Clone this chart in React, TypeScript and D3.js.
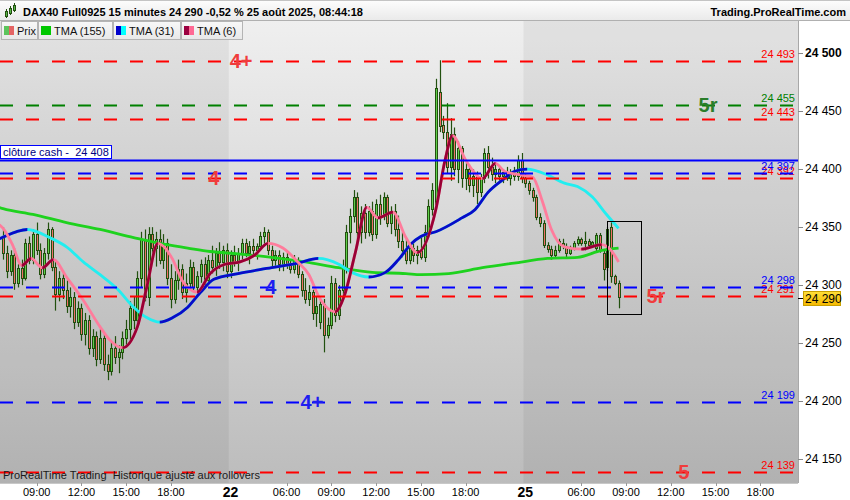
import React from 'react';
import * as d3 from 'd3';

// ---------- DATA ----------
// 15-minute candles: [open, high, low, close]; index 0 = 21 Aug 06:45
const candles: [number, number, number, number][] = [
  [24342,24350,24322,24328],[24328,24334,24306,24312],[24312,24330,24308,24326],[24326,24332,24296,24302],
  [24302,24318,24298,24315],[24315,24322,24300,24306],[24306,24340,24304,24336],[24336,24342,24318,24322],
  [24322,24348,24318,24344],[24344,24354,24326,24330],[24330,24336,24305,24310],[24310,24332,24306,24328],
  [24328,24354,24322,24348],[24348,24350,24312,24316],[24316,24322,24278,24292],[24292,24312,24286,24306],
  [24306,24310,24288,24296],[24296,24304,24276,24282],[24282,24298,24272,24290],[24290,24294,24262,24268],
  [24268,24286,24264,24280],[24280,24284,24252,24258],[24258,24276,24248,24270],[24270,24274,24240,24246],
  [24246,24262,24238,24256],[24256,24260,24230,24236],[24236,24262,24232,24254],[24254,24258,24226,24232],
  [24232,24240,24218,24226],[24226,24252,24222,24246],[24246,24256,24232,24238],[24238,24248,24224,24242],
  [24242,24260,24236,24254],[24254,24270,24246,24262],[24262,24286,24250,24280],[24280,24290,24262,24270],
  [24270,24312,24266,24306],[24306,24346,24298,24340],[24340,24348,24286,24290],[24290,24350,24282,24344],
  [24344,24350,24326,24332],[24332,24346,24316,24340],[24340,24348,24318,24322],[24322,24344,24314,24336],
  [24336,24340,24300,24306],[24306,24318,24280,24288],[24288,24312,24284,24304],[24304,24322,24296,24314],
  [24314,24318,24288,24294],[24294,24310,24285,24302],[24302,24322,24296,24316],[24316,24320,24294,24298],
  [24298,24312,24293,24308],[24308,24322,24302,24318],[24318,24324,24300,24304],[24304,24326,24302,24322],
  [24322,24334,24310,24316],[24316,24332,24308,24328],[24328,24337,24314,24320],[24320,24334,24312,24330],
  [24330,24336,24306,24312],
  // 22 Aug
  [24312,24330,24306,24326],[24326,24334,24316,24320],[24320,24332,24312,24328],[24328,24340,24322,24336],
  [24336,24340,24324,24328],[24328,24338,24318,24334],[24334,24340,24326,24330],[24330,24336,24322,24334],
  [24334,24346,24330,24342],[24342,24350,24334,24346],[24346,24348,24326,24330],[24330,24334,24316,24322],
  [24322,24330,24316,24326],[24326,24330,24312,24318],[24318,24328,24312,24324],[24324,24328,24314,24318],
  [24318,24322,24310,24314],[24314,24326,24310,24322],[24322,24324,24306,24310],[24310,24312,24290,24296],
  [24296,24306,24284,24288],[24288,24300,24282,24294],[24294,24296,24270,24276],[24276,24290,24264,24282],
  [24268,24288,24262,24284],[24284,24288,24242,24257],[24257,24272,24254,24266],[24266,24308,24262,24302],
  [24302,24306,24268,24274],[24274,24300,24270,24296],[24296,24322,24288,24316],[24316,24352,24310,24346],
  [24346,24366,24336,24360],[24360,24382,24354,24376],[24376,24380,24340,24346],[24346,24368,24336,24362],
  [24362,24370,24340,24346],[24346,24368,24342,24364],[24364,24372,24338,24344],[24344,24374,24340,24370],
  [24370,24378,24352,24360],[24360,24380,24356,24376],[24376,24378,24350,24354],[24354,24368,24344,24364],
  [24364,24370,24342,24348],[24348,24360,24332,24338],[24338,24346,24324,24330],[24330,24340,24318,24322],
  [24322,24336,24318,24332],[24332,24338,24320,24326],[24326,24334,24318,24330],[24330,24342,24322,24324],
  [24324,24352,24320,24346],[24346,24374,24342,24368],[24366,24388,24360,24382],[24370,24478,24366,24470],
  [24467,24494,24432,24437],[24438,24446,24426,24432],[24432,24457,24396,24402],[24402,24444,24390,24430],
  [24430,24436,24394,24400],[24400,24424,24388,24418],[24418,24420,24384,24392],[24392,24406,24382,24400],
  [24400,24404,24380,24386],[24386,24400,24376,24394],[24394,24398,24370,24380],[24380,24396,24376,24392],
  [24392,24418,24388,24414],[24414,24420,24392,24402],[24402,24410,24390,24396],[24396,24404,24388,24400],
  [24400,24403,24390,24394],[24394,24400,24388,24398],[24398,24402,24390,24392],[24392,24400,24386,24396],
  [24396,24402,24390,24394],[24394,24412,24390,24408],[24408,24414,24388,24392],
  // 25 Aug
  [24392,24396,24384,24388],[24388,24390,24378,24382],[24382,24384,24372,24376],[24376,24378,24356,24359],
  [24359,24362,24350,24354],[24354,24356,24332,24335],[24335,24337,24328,24331],[24331,24334,24322,24326],
  [24326,24334,24324,24330],[24330,24340,24328,24338],[24336,24340,24331,24334],[24334,24336,24324,24328],
  [24328,24334,24326,24332],[24332,24338,24330,24336],[24336,24342,24334,24340],[24340,24341,24334,24336],
  [24336,24346,24330,24338],[24338,24340,24332,24335],[24335,24338,24332,24337],[24332,24345,24328,24343],
  [24343,24345,24328,24330],[24328,24330,24304,24314],[24316,24350,24312,24348],[24350,24355,24302,24308],
  [24308,24309,24300,24302],[24302,24304,24280,24290],
];

// Indicator readings: [bar index, price]
const tma155: [number, number][] = [
  [-1,24367],[0,24366],[8,24361],[17,24354],[26,24348],[35,24341],[42,24336],[49.5,24332],[55.5,24329],
  [63,24327],[72,24324],[81,24320],[90,24315],[99,24311],[108,24310],[112,24309],[119.5,24310],
  [128.5,24315],[137,24319],[146,24323],[154,24324],[160.5,24330],[165,24332],
];
const tma31: [number, number][] = [
  [-1,24340],[3.5,24346],[6.5,24348],[12.5,24341],[17,24333],[21.5,24320],[26,24309],[30.5,24297],
  [35,24281],[38.5,24272],[42,24268],[45.5,24272],[49.5,24281],[53,24294],[56.5,24305],[63,24310],
  [72,24315],[79,24319],[84.5,24323],[90,24318],[93.5,24311],[98,24307],[102.5,24311],[106,24322],
  [109.5,24336],[112,24342],[116,24346],[123,24358],[126.5,24365],[130,24380],[134,24391],[137,24398],
  [140.5,24400],[146,24395],[150.5,24388],[154,24385],[158,24376],[161.5,24362],[165,24349],
];
const tma6: [number, number][] = [
  [-1,24352],[0,24349],[2.5,24335],[5,24317],[7.5,24323],[10.5,24315],[13.5,24322],[17,24307],
  [21.5,24287],[26,24264],[28.5,24253],[32,24246],[36,24264],[38.5,24298],[41.5,24336],[45.5,24322],
  [48,24304],[52,24294],[55.5,24310],[59.5,24318],[63.5,24320],[67.5,24326],[71,24336],[75,24332],
  [79,24320],[82,24309],[84.5,24291],[87,24280],[89,24277],[91.5,24291],[94.5,24329],[97.5,24367],
  [100.5,24358],[104.5,24363],[108,24341],[111,24328],[116,24365],[118.5,24408],[120.5,24429],
  [124,24408],[128.5,24392],[132,24405],[134.5,24398],[139,24395],[142,24393],[144.5,24373],
  [147,24348],[150.5,24333],[155,24331],[160.5,24335],[163,24330],[165,24320],
];

const redLevels = [24493, 24443, 24392, 24291, 24139];
const greenLevels = [24455];
const blueLevels = [24397, 24298, 24199];
const cashClose = 24408;
const lastPrice = 24290;

const priceTicks = [24150, 24200, 24250, 24300, 24350, 24400, 24450, 24500];
const hourTicks: { i: number; label: string }[] = [
  { i: 9, label: '09:00' }, { i: 21, label: '12:00' }, { i: 33, label: '15:00' }, { i: 45, label: '18:00' },
  { i: 76, label: '06:00' }, { i: 88, label: '09:00' }, { i: 100, label: '12:00' }, { i: 112, label: '15:00' },
  { i: 124, label: '18:00' }, { i: 155, label: '06:00' }, { i: 167, label: '09:00' }, { i: 179, label: '12:00' },
  { i: 191, label: '15:00' }, { i: 203, label: '18:00' },
];
const dayTicks: { i: number; label: string }[] = [{ i: 61, label: '22' }, { i: 140, label: '25' }];
const dayStarts = [61, 140];

const tags = [
  { t: '4+', price: 24493, at: 63.8, kind: 'red' },
  { t: '5r', price: 24455, at: 189, kind: 'green' },
  { t: '4', price: 24392, at: 56.5, kind: 'red' },
  { t: '4', price: 24298, at: 71.8, kind: 'blue' },
  { t: '4+', price: 24199, at: 82.8, kind: 'blue' },
  { t: '5r', price: 24291, at: 175, kind: 'red' },
  { t: '5', price: 24139, at: 182.5, kind: 'red' },
];
const boxRange = { i0: 162, i1: 171.2, hi: 24355, lo: 24275 };

// ---------- STYLE ----------
const FONT = 'Liberation Sans, Arial, sans-serif';
const PL = { left: 0, right: 798, top: 21, bottom: 483 };
const WICK = '#22500f';
const UP = '#5fcf4a';
const DN = '#ef7068';
const tagColor: Record<string, string> = { red: '#f03c3c', green: '#2a7d2a', blue: '#1e1ef0' };

const x = d3.scaleLinear().domain([0, 165]).range([3.1, 3.1 + 3.73 * 165]);
const y = d3.scaleLinear().domain([24150, 24500]).range([459, 53.3]);
const fmt = (v: number) => d3.format(',')(v).replace(/,/g, ' ');

const line = d3.line<[number, number]>().x(d => x(d[0])).y(d => y(d[1])).curve(d3.curveMonotoneX);

function risingRanges(pts: [number, number][]) {
  const out: [number, number][] = [];
  for (let k = 1; k < pts.length; k++) {
    if (pts[k][1] > pts[k - 1][1]) {
      const last = out[out.length - 1];
      if (last && last[1] === pts[k - 1][0]) last[1] = pts[k][0];
      else out.push([pts[k - 1][0], pts[k][0]]);
    }
  }
  return out;
}

function TwoTone({ pts, rise, fall, id }: { pts: [number, number][]; rise: string; fall: string; id: string }) {
  const ranges = risingRanges(pts);
  const d = line(pts) || '';
  return (
    <g>
      <clipPath id={id}>
        {ranges.map((r, k) => (
          <rect key={k} x={x(r[0])} y={0} width={x(r[1]) - x(r[0])} height={500} />
        ))}
      </clipPath>
      <path d={d} fill="none" stroke={fall} strokeWidth={2.8} strokeLinejoin="round" />
      <path d={d} fill="none" stroke={rise} strokeWidth={2.8} strokeLinejoin="round" clipPath={`url(#${id})`} />
    </g>
  );
}

function Level({ price, color }: { price: number; color: string }) {
  const yy = Math.round(y(price)) + 0.5;
  return (
    <g>
      <line x1={0} x2={794} y1={yy} y2={yy} stroke={color} strokeWidth={2} strokeDasharray="13 13" />
      <text x={795} y={yy - 4} fontSize={11} fill={color} textAnchor="end" fontFamily={FONT}>{fmt(price)}</text>
    </g>
  );
}

export default function App() {
  const dayBoundary = (i: number) => (x(i - 1) + x(i)) / 2;
  return (
    <svg width={850} height={500} style={{ position: 'absolute', left: 0, top: 0 }} fontFamily={FONT}>
      <defs>
        <linearGradient id="bg" x1="0" y1="0" x2="0" y2="1">
          <stop offset="0" stopColor="#efefef" />
          <stop offset="1" stopColor="#bcbcbc" />
        </linearGradient>
        <linearGradient id="hdr" x1="0" y1="0" x2="0" y2="1">
          <stop offset="0" stopColor="#fdfdfd" />
          <stop offset="1" stopColor="#e9e9e9" />
        </linearGradient>
        <linearGradient id="leg" x1="0" y1="0" x2="0" y2="1">
          <stop offset="0" stopColor="#f8f8f8" />
          <stop offset="1" stopColor="#e8e8e8" />
        </linearGradient>
        <linearGradient id="yel" x1="0" y1="0" x2="0" y2="1">
          <stop offset="0" stopColor="#ffdf3a" />
          <stop offset="1" stopColor="#f5b800" />
        </linearGradient>
        <clipPath id="plotclip">
          <rect x={PL.left} y={PL.top} width={PL.right - PL.left} height={PL.bottom - PL.top} />
        </clipPath>
      </defs>

      <rect x={0} y={0} width={850} height={500} fill="#ffffff" />

      {/* plot background */}
      <rect x={PL.left} y={PL.top} width={PL.right} height={PL.bottom - PL.top} fill="url(#bg)" />
      <rect x={0} y={PL.top} width={dayBoundary(dayStarts[0])} height={PL.bottom - PL.top} fill="rgba(0,0,0,0.055)" />
      <rect x={dayBoundary(dayStarts[1])} y={PL.top} width={PL.right - dayBoundary(dayStarts[1])} height={PL.bottom - PL.top} fill="rgba(0,0,0,0.055)" />

      <g clipPath="url(#plotclip)">
        {/* candles */}
        {candles.map((c, i) => {
          const [o, h, l, cl] = c;
          const px = Math.round(x(i));
          const top = Math.round(y(Math.max(o, cl)));
          const bot = Math.round(y(Math.min(o, cl)));
          return (
            <g key={i}>
              <line x1={px + 0.5} x2={px + 0.5} y1={y(h)} y2={y(l)} stroke={WICK} strokeWidth={1.2} />
              <rect x={px - 0.5} y={top + 0.5} width={2} height={Math.max(1, bot - top)} fill={cl >= o ? UP : DN} stroke={WICK} strokeWidth={1} />
            </g>
          );
        })}

        {/* indicators */}
        <path d={line(tma155) || ''} fill="none" stroke="#1ed21e" strokeWidth={2.8} />
        <TwoTone pts={tma31} rise="#0a0ac8" fall="#22eef0" id="c31" />
        <TwoTone pts={tma6} rise="#990035" fall="#ff7c9c" id="c6" />

        {/* levels */}
        {redLevels.map(p => <Level key={'r' + p} price={p} color="#ff0000" />)}
        {greenLevels.map(p => <Level key={'g' + p} price={p} color="#008000" />)}
        {blueLevels.map(p => <Level key={'b' + p} price={p} color="#0000ff" />)}
        <line x1={0} x2={PL.right} y1={Math.round(y(cashClose)) + 0.5} y2={Math.round(y(cashClose)) + 0.5} stroke="#0000ff" strokeWidth={2} />
        <rect x={0.5} y={Math.round(y(cashClose)) - 14.5} width={111} height={13} fill="#ffffff" stroke="#0000ff" strokeWidth={1} />
        <text x={3} y={Math.round(y(cashClose)) - 4} fontSize={11} fill="#000080" style={{ whiteSpace: 'pre' }}>{`clôture cash -  ${fmt(cashClose)}`}</text>

        {/* tags */}
        {tags.map((t, k) => (
          <text key={k} x={x(t.at)} y={y(t.price)} fontSize={20} fontWeight="bold" fill={tagColor[t.kind]} textAnchor="middle" dominantBaseline="central">{t.t}</text>
        ))}

        {/* annotation box */}
        <rect x={Math.round(x(boxRange.i0)) + 0.5} y={Math.round(y(boxRange.hi)) + 0.5} width={Math.round(x(boxRange.i1) - x(boxRange.i0))} height={Math.round(y(boxRange.lo) - y(boxRange.hi))} fill="none" stroke="#000" strokeWidth={1} />

        <text x={3} y={479} fontSize={11} fill="#1a1a1a" style={{ whiteSpace: 'pre' }}>{'ProRealTime Trading  Historique ajusté aux rollovers'}</text>
      </g>

      {/* legend row */}
      {[
        { x0: 1, w: 36, label: 'Prix', c1: '#5cc45c', c2: '#e46464' },
        { x0: 38, w: 74, label: 'TMA (155)', c1: '#00c800', c2: '#00c800' },
        { x0: 113, w: 67, label: 'TMA (31)', c1: '#0000cc', c2: '#00ffff' },
        { x0: 181, w: 61, label: 'TMA (6)', c1: '#9b0040', c2: '#ff6a94' },
      ].map((b, k) => (
        <g key={k}>
          <rect x={b.x0 + 0.5} y={21.5} width={b.w} height={18} fill="url(#leg)" stroke="#b4b4b4" />
          <rect x={b.x0 + 3} y={26} width={5} height={9} fill={b.c1} />
          <rect x={b.x0 + 8} y={26} width={5} height={9} fill={b.c2} />
          <text x={b.x0 + 16} y={35} fontSize={11} fill="#111">{b.label}</text>
        </g>
      ))}

      {/* header */}
      <rect x={0} y={0} width={850} height={21} fill="url(#hdr)" />
      <line x1={0} x2={850} y1={0.5} y2={0.5} stroke="#c4c4c4" />
      <line x1={0} x2={850} y1={20.5} y2={20.5} stroke="#b0b0b0" />
      <g stroke={WICK} strokeWidth={1}>
        <line x1={6.5} x2={6.5} y1={9} y2={18} />
        <rect x={5.5} y={11.5} width={2} height={5} fill="#58b848" />
        <line x1={10.5} x2={10.5} y1={6} y2={15} />
        <rect x={9.5} y={8.5} width={2} height={5} fill="#58b848" />
        <line x1={14.5} x2={14.5} y1={3} y2={12} />
        <rect x={13.5} y={5.5} width={2} height={5} fill="#58b848" />
      </g>
      <text x={23} y={16} fontSize={11} fontWeight="bold" fill="#000">DAX40 Full0925 15 minutes 24 290 -0,52 % 25 août 2025, 08:44:18</text>
      <text x={846} y={16} fontSize={11} fontWeight="bold" fill="#000" textAnchor="end">Trading.ProRealTime.com</text>

      {/* right axis */}
      <line x1={PL.right + 0.5} x2={PL.right + 0.5} y1={PL.top} y2={PL.bottom} stroke="#a8a8a8" />
      {priceTicks.map((p) => (
        <g key={p}>
          <line x1={PL.right} x2={PL.right + 5} y1={Math.round(y(p)) + 0.5} y2={Math.round(y(p)) + 0.5} stroke="#888" />
          <text x={805} y={y(p)} dominantBaseline="central" fontSize={12} fontWeight={p === 24500 ? 'bold' : 'normal'} fill="#000">{fmt(p)}</text>
        </g>
      ))}
      <line x1={PL.right} x2={PL.right + 5} y1={Math.round(y(lastPrice)) + 1.5} y2={Math.round(y(lastPrice)) + 1.5} stroke="#000" />
      <rect x={803.5} y={Math.round(y(lastPrice)) - 5.5} width={37} height={14} fill="url(#yel)" stroke="#c9a000" />
      <text x={805} y={y(lastPrice) + 2} dominantBaseline="central" fontSize={12} fill="#000">{fmt(lastPrice)}</text>

      {/* bottom axis */}
      <line x1={0} x2={PL.right} y1={PL.bottom + 0.5} y2={PL.bottom + 0.5} stroke="#c8c8c8" />
      {hourTicks.map((t, k) => (
        <g key={k}>
          <line x1={Math.round(x(t.i)) + 0.5} x2={Math.round(x(t.i)) + 0.5} y1={PL.bottom} y2={PL.bottom + 3} stroke="#999" />
          <text x={x(t.i)} y={496} fontSize={11} fill="#000" textAnchor="middle">{t.label}</text>
        </g>
      ))}
      {dayTicks.map((t, k) => (
        <text key={k} x={x(t.i)} y={497} fontSize={14} fontWeight="bold" fill="#000" textAnchor="middle">{t.label}</text>
      ))}
    </svg>
  );
}
